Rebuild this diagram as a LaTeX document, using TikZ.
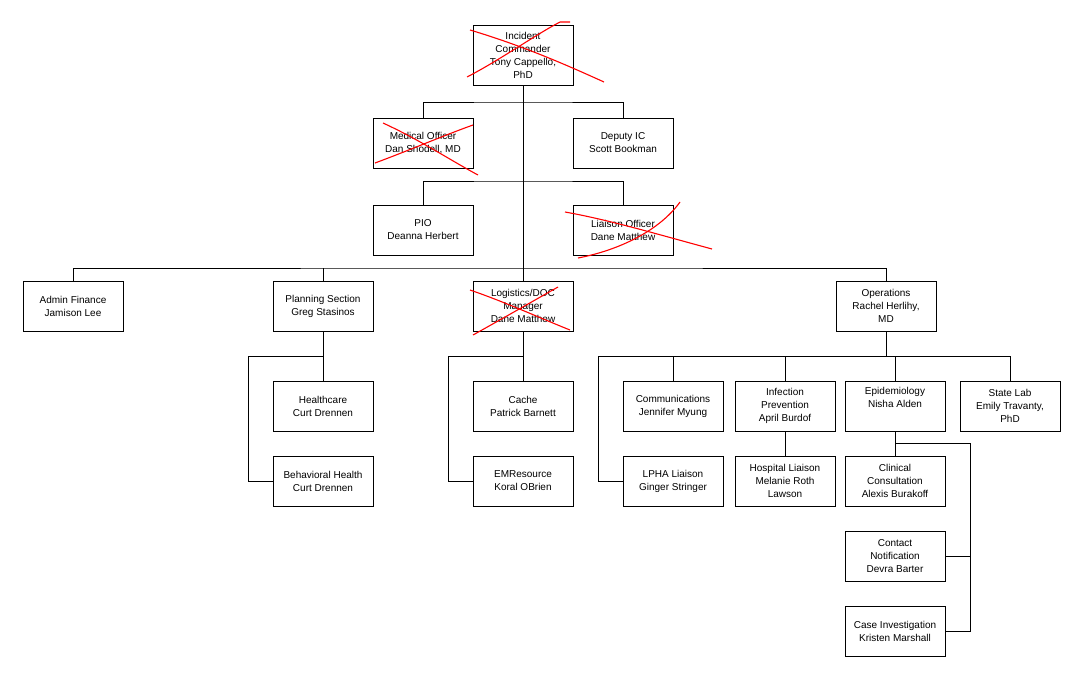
\documentclass[tikz,border=0pt]{standalone}
\usepackage{fontspec}
\setmainfont{Liberation Sans}
\begin{document}
\begin{tikzpicture}[x=1pt,y=-1pt,
 box/.style={draw,line width=0.9pt,minimum width=100pt,minimum height=50pt,align=center,font=\fontsize{10}{13}\selectfont,inner sep=1pt},
 ln/.style={line width=0.9pt},
 x1/.style={red,line width=1.1pt}]
\useasboundingbox[fill=white] (0,0) rectangle (1070,683);
\node[box,minimum height=60pt] (ic) at (523,55) {Incident\\Commander\\Tony Cappello,\\PhD};
\node[box] (mo) at (423,143) {Medical Officer\\Dan Shodell, MD};
\node[box] (dic) at (623,143) {Deputy IC\\Scott Bookman};
\node[box] (pio) at (423,230) {PIO\\Deanna Herbert};
\node[box] (lo) at (623,230) {Liaison Officer\\Dane Matthew};
\node[box] (af) at (73,306) {Admin Finance\\Jamison Lee};
\node[box] (ps) at (323,306) {Planning Section\\Greg Stasinos};
\node[box] (lg) at (523,306) {Logistics/DOC\\Manager\\Dane Matthew};
\node[box] (op) at (886,306) {Operations\\Rachel Herlihy,\\MD};
\node[box] (hc) at (323,406) {Healthcare\\Curt Drennen};
\node[box] (bh) at (323,481) {Behavioral Health\\Curt Drennen};
\node[box] (ca) at (523,406) {Cache\\Patrick Barnett};
\node[box] (em) at (523,481) {EMResource\\Koral OBrien};
\node[box] (cm) at (673,406) {Communications\\Jennifer Myung};
\node[box] (lp) at (673,481) {LPHA Liaison\\Ginger Stringer};
\node[box] (ip) at (785,406) {Infection\\Prevention\\April Burdof};
\node[box] (hl) at (785,481) {Hospital Liaison\\Melanie Roth\\Lawson};
\node[box] (ep) at (895,406) {Epidemiology\\Nisha Alden\\\strut};
\node[box] (cc) at (895,481) {Clinical\\Consultation\\Alexis Burakoff};
\node[box] (cn) at (895,556) {Contact\\Notification\\Devra Barter};
\node[box] (ci) at (895,631) {Case Investigation\\Kristen Marshall};
\node[box] (sl) at (1010,406) {State Lab\\Emily Travanty,\\PhD};
\coordinate (j1) at (523,102);
\coordinate (j2) at (523,181);
\coordinate (j3) at (523,268);
\coordinate (jp) at (323,356);
\coordinate (jl) at (523,356);
\coordinate (jo) at (886,356);
\coordinate (je) at (895,443);
\draw[ln] (ic.south) -- (lg.north);
\draw[ln] (mo.north) |- (j1) -| (dic.north);
\draw[ln] (pio.north) |- (j2) -| (lo.north);
\draw[ln] (af.north) |- (j3) -| (op.north);
\draw[ln] (ps.north) -- (ps.north |- j3);
\draw[ln] (ps.south) -- (hc.north);
\draw[ln] (jp) -- (248,356) |- (bh.west);
\draw[ln] (lg.south) -- (ca.north);
\draw[ln] (jl) -- (448,356) |- (em.west);
\draw[ln] (op.south) -- (jo);
\draw[ln] (598,356) -- (1010,356);
\draw[ln] (598,356) |- (lp.west);
\draw[ln] (cm.north) -- (cm.north |- jo);
\draw[ln] (ip.north) -- (ip.north |- jo);
\draw[ln] (ep.north) -- (ep.north |- jo);
\draw[ln] (sl.north) -- (sl.north |- jo);
\draw[ln] (ip.south) -- (hl.north);
\draw[ln] (ep.south) -- (cc.north);
\draw[ln] (je) -- (970,443) |- (ci.east);
\draw[ln] (970,556) -- (cn.east);
% red crosses
\draw[x1] (470,30) .. controls (520,45) and (560,62) .. (604,82);
\draw[x1] (467,77) .. controls (500,60) and (535,35) .. (560,22) -- (570,22);
\draw[x1] (383,123) .. controls (420,140) and (450,160) .. (478,175);
\draw[x1] (375,163) .. controls (410,150) and (445,135) .. (473,125);
\draw[x1] (565,212) .. controls (610,220) and (660,235) .. (712,249);
\draw[x1] (578,258) .. controls (620,250) and (660,230) .. (680,202);
\draw[x1] (470,290) .. controls (505,302) and (540,318) .. (570,330);
\draw[x1] (473,335) .. controls (500,320) and (535,300) .. (558,287);
\end{tikzpicture}
\end{document}
